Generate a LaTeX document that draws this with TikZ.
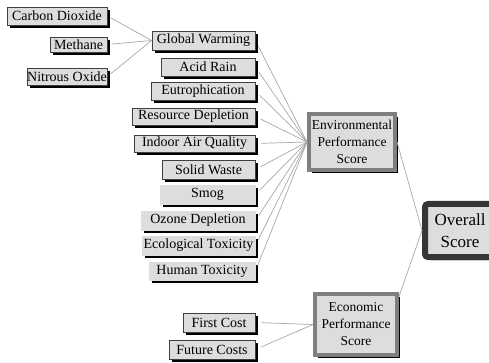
\documentclass[tikz,border=0pt]{standalone}
\usepackage{fontspec}
\newfontfamily\boxfont{Liberation Serif}
\usetikzlibrary{shadows}
\definecolor{boxfill}{HTML}{DDDDDD}
\definecolor{boxline}{HTML}{404040}
\definecolor{wire}{HTML}{A8A8A8}
\definecolor{midframe}{HTML}{7F7F7F}
\definecolor{darkframe}{HTML}{363636}
\begin{document}
\begin{tikzpicture}[x=1pt,y=-1pt,
  leaf/.style={rectangle, fill=boxfill, draw=boxline, line width=0.8pt,
    inner sep=0pt, font=\boxfont\fontsize{14}{16}\selectfont,
    drop shadow={shadow xshift=3pt,shadow yshift=-3pt,fill=black,opacity=1}},
  flatleaf/.style={leaf, draw=boxfill},
  score/.style={rectangle, fill=boxfill, draw=midframe, line width=4pt,
    inner sep=0pt, align=center, font=\boxfont\fontsize{13.5}{17}\selectfont,
    drop shadow={shadow xshift=3pt,shadow yshift=-3pt,fill=black,opacity=1}},
  total/.style={rectangle, rounded corners=3pt, fill=boxfill, draw=darkframe,
    line width=6pt, inner sep=0pt, align=center,
    font=\boxfont\fontsize{17}{22}\selectfont,
    drop shadow={shadow xshift=3pt,shadow yshift=-3pt,fill=black,opacity=1}},
  wireline/.style={draw=wire, line width=0.7pt}]
\useasboundingbox (0,0) rectangle (489,363);
\clip (0,0) rectangle (489,363);

% greenhouse gases
\node[leaf, minimum width=100pt, minimum height=18pt] (co2) at (57,16) {Carbon Dioxide};
\node[leaf, minimum width=57pt, minimum height=15pt] (meth) at (78.5,44.5) {Methane};
\node[leaf, minimum width=80pt, minimum height=17pt] (n2o) at (67,76.5) {Nitrous Oxide};

% impact categories
\node[leaf, minimum width=103pt, minimum height=19pt] (gw) at (203.5,40.5) {Global Warming};
\node[leaf, minimum width=94pt, minimum height=18pt] (acid) at (208,67) {Acid Rain};
\node[leaf, minimum width=104pt, minimum height=18pt] (eut) at (203,91) {Eutrophication};
\node[leaf, minimum width=123pt, minimum height=17pt] (res) at (193.5,116.5) {Resource Depletion};
\node[leaf, minimum width=121pt, minimum height=17pt] (iaq) at (194.5,143.5) {Indoor Air Quality};
\node[leaf, minimum width=93pt, minimum height=19pt] (sw) at (208.5,169.5) {Solid Waste};
\node[flatleaf, minimum width=95pt, minimum height=19pt] (smog) at (207.5,194.5) {Smog};
\node[flatleaf, minimum width=114pt, minimum height=19pt] (ozone) at (198,220.5) {Ozone Depletion};
\node[flatleaf, minimum width=113pt, minimum height=19pt] (eco) at (198.5,245.5) {Ecological Toxicity};
\node[flatleaf, minimum width=106pt, minimum height=18pt] (hum) at (202,271) {Human Toxicity};

% cost items
\node[leaf, minimum width=72pt, minimum height=19pt] (fc) at (219,322.5) {First Cost};
\node[leaf, minimum width=86pt, minimum height=19pt] (fut) at (212,349.5) {Future Costs};

% scores
\node[score, minimum width=86pt, minimum height=56pt] (eps) at (352,142) {Environmental\\Performance\\Score};
\node[score, minimum width=82pt, minimum height=61pt] (econ) at (356,324.5) {Economic\\Performance\\Score};
\node[total, minimum width=70pt, minimum height=53pt] (overall) at (460,230.5) {Overall\\Score};

% connectors
\path[wireline, shorten <=4pt] (co2.east) -- (gw.west);
\path[wireline, shorten <=4pt] (meth.east) -- (gw.west);
\path[wireline, shorten <=4pt] (n2o.east) -- (gw.west);
\foreach \n in {gw,acid,eut,res,iaq,sw,smog,ozone,eco,hum}
  \path[wireline, shorten <=6pt] (\n.east) -- (eps.west);
\path[wireline, shorten <=6pt] (fc.east) -- (econ.west);
\path[wireline, shorten <=6pt] (fut.east) -- (econ.west);
\path[wireline] (eps.east) -- (overall.west);
\path[wireline] (overall.west) -- (econ.33);
\end{tikzpicture}
\end{document}
